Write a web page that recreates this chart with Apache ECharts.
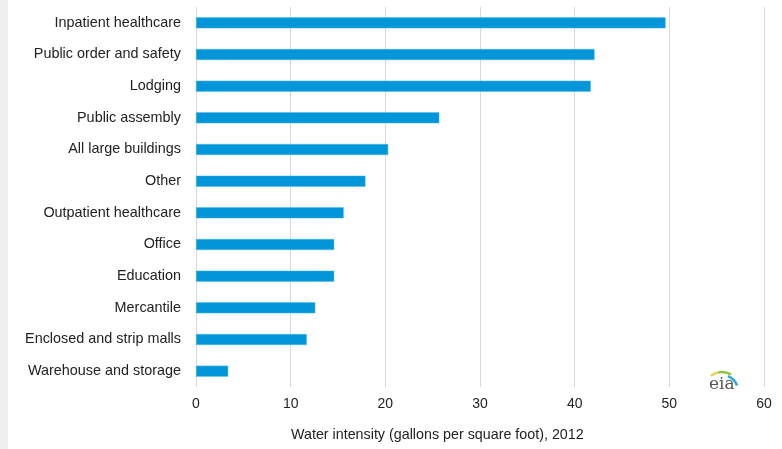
<!DOCTYPE html>
<html><head><meta charset="utf-8">
<script src="https://cdn.jsdelivr.net/npm/echarts@6/dist/echarts.min.js"></script>
<style>html,body{margin:0;padding:0;background:#fff}#c{width:782px;height:449px}</style>
</head><body><div id="c"></div>
<script>
var categories = ["Inpatient healthcare","Public order and safety","Lodging","Public assembly","All large buildings","Other","Outpatient healthcare","Office","Education","Mercantile","Enclosed and strip malls","Warehouse and storage"];
var values = [49.6, 42.1, 41.7, 25.7, 20.3, 17.9, 15.6, 14.6, 14.6, 12.6, 11.7, 3.4];
var xTicks = [0, 10, 20, 30, 40, 50, 60];
var axisTitle = "Water intensity (gallons per square foot), 2012";

var chart = echarts.init(document.getElementById('c'));
chart.setOption({
  animation: false,
  grid: {left: 196, right: 18, top: 7, bottom: 62, containLabel: false},
  xAxis: {
    type: 'value', min: xTicks[0], max: xTicks[xTicks.length-1], interval: 10,
    axisLine: {show: false}, axisTick: {show: false},
    axisLabel: {fontFamily: 'Liberation Sans', fontSize: 14, color: '#222', margin: 10},
    splitLine: {lineStyle: {color: '#d9d9d9', width: 1}}
  },
  yAxis: {
    type: 'category', data: categories, inverse: true,
    axisLine: {show: false}, axisTick: {show: false},
    axisLabel: {fontFamily: 'Liberation Sans', fontSize: 14.4, color: '#222', margin: 15}
  },
  series: [{
    type: 'bar', data: values, barWidth: 11,
    itemStyle: {color: '#0096d9', borderColor: '#4fb8e8', borderWidth: 0.5}
  }],
  graphic: [
    {type: 'rect', left: 0, top: 0, shape: {width: 8, height: 449}, style: {fill: '#efefef'}, z: -1},
    {type: 'text', left: 291, top: 428, style: {text: axisTitle, font: '14.3px "Liberation Sans", Arial, sans-serif', fill: '#222'}},
    {type: 'arc', shape: {cx: 722, cy: 390, r: 18, startAngle: Math.PI*232/180, endAngle: Math.PI*258/180}, style: {stroke: '#f2c94c', lineWidth: 2.5, fill: null}},
    {type: 'arc', shape: {cx: 722, cy: 390, r: 18, startAngle: Math.PI*258/180, endAngle: Math.PI*300/180}, style: {stroke: '#8cc63f', lineWidth: 2.5, fill: null}},
    {type: 'arc', shape: {cx: 722, cy: 391, r: 16, startAngle: Math.PI*292/180, endAngle: Math.PI*340/180}, style: {stroke: '#29a9e0', lineWidth: 2.5, fill: null}},
    {type: 'text', style: {x: 709, y: 385, text: 'eia', font: '17px "DejaVu Serif", serif', fill: '#555', verticalAlign: 'middle'}}
  ]
});
</script></body></html>
